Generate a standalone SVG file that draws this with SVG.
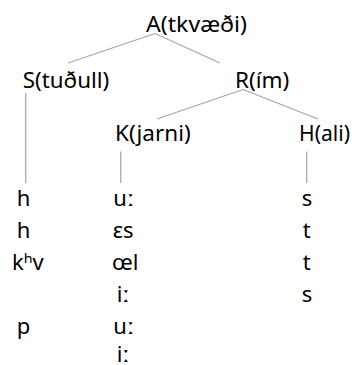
<svg xmlns="http://www.w3.org/2000/svg" width="352" height="365" viewBox="0 0 352 365">
<style>
text{font-family:"Noto Sans","Open Sans","DejaVu Sans",sans-serif;font-size:22px;fill:#000}
.e{stroke:#a6a6a6;stroke-width:1.2;fill:none}
</style>
<rect width="352" height="365" fill="#fff"/>
<g id="connectors">
<line class="e" x1="155" y1="33.5" x2="68" y2="63"/>
<line class="e" x1="155" y1="33.5" x2="220" y2="63"/>
<line class="e" x1="243" y1="89.5" x2="157" y2="119"/>
<line class="e" x1="243" y1="89.5" x2="318" y2="119"/>
<line class="e" x1="25.7" y1="93" x2="25.7" y2="183"/>
<line class="e" x1="120.7" y1="151.5" x2="120.7" y2="183"/>
<line class="e" x1="306.7" y1="151.5" x2="306.7" y2="183"/>
</g>
<g id="A"><text x="146" y="32" textLength="101" lengthAdjust="spacingAndGlyphs">A(tkvæði)</text></g>
<g id="S"><text x="22.7" y="88" textLength="86.6" lengthAdjust="spacingAndGlyphs">S(tuðull)</text></g>
<g id="R"><text x="235" y="88.3" textLength="54.3" lengthAdjust="spacingAndGlyphs">R(ím)</text></g>
<g id="K"><text x="115" y="140.7" textLength="75.7" lengthAdjust="spacingAndGlyphs">K(jarni)</text></g>
<g id="H"><text x="299" y="141" textLength="51" lengthAdjust="spacingAndGlyphs">H(ali)</text></g>
<g id="col-S">
<text x="16.7" y="206">h</text>
<text x="16.7" y="238">h</text>
<text x="12" y="270">kʰv</text>
<text x="16.7" y="334">p</text>
</g>
<g id="col-K">
<text x="113.3" y="206">uː</text>
<text x="112.7" y="238">εs</text>
<text x="112" y="270">œl</text>
<text x="116.7" y="302">iː</text>
<text x="113.3" y="334">uː</text>
<text x="116.7" y="362">iː</text>
</g>
<g id="col-H">
<text x="301.7" y="206">s</text>
<text x="302.7" y="238">t</text>
<text x="302.7" y="270">t</text>
<text x="301.7" y="302">s</text>
</g>
</svg>
